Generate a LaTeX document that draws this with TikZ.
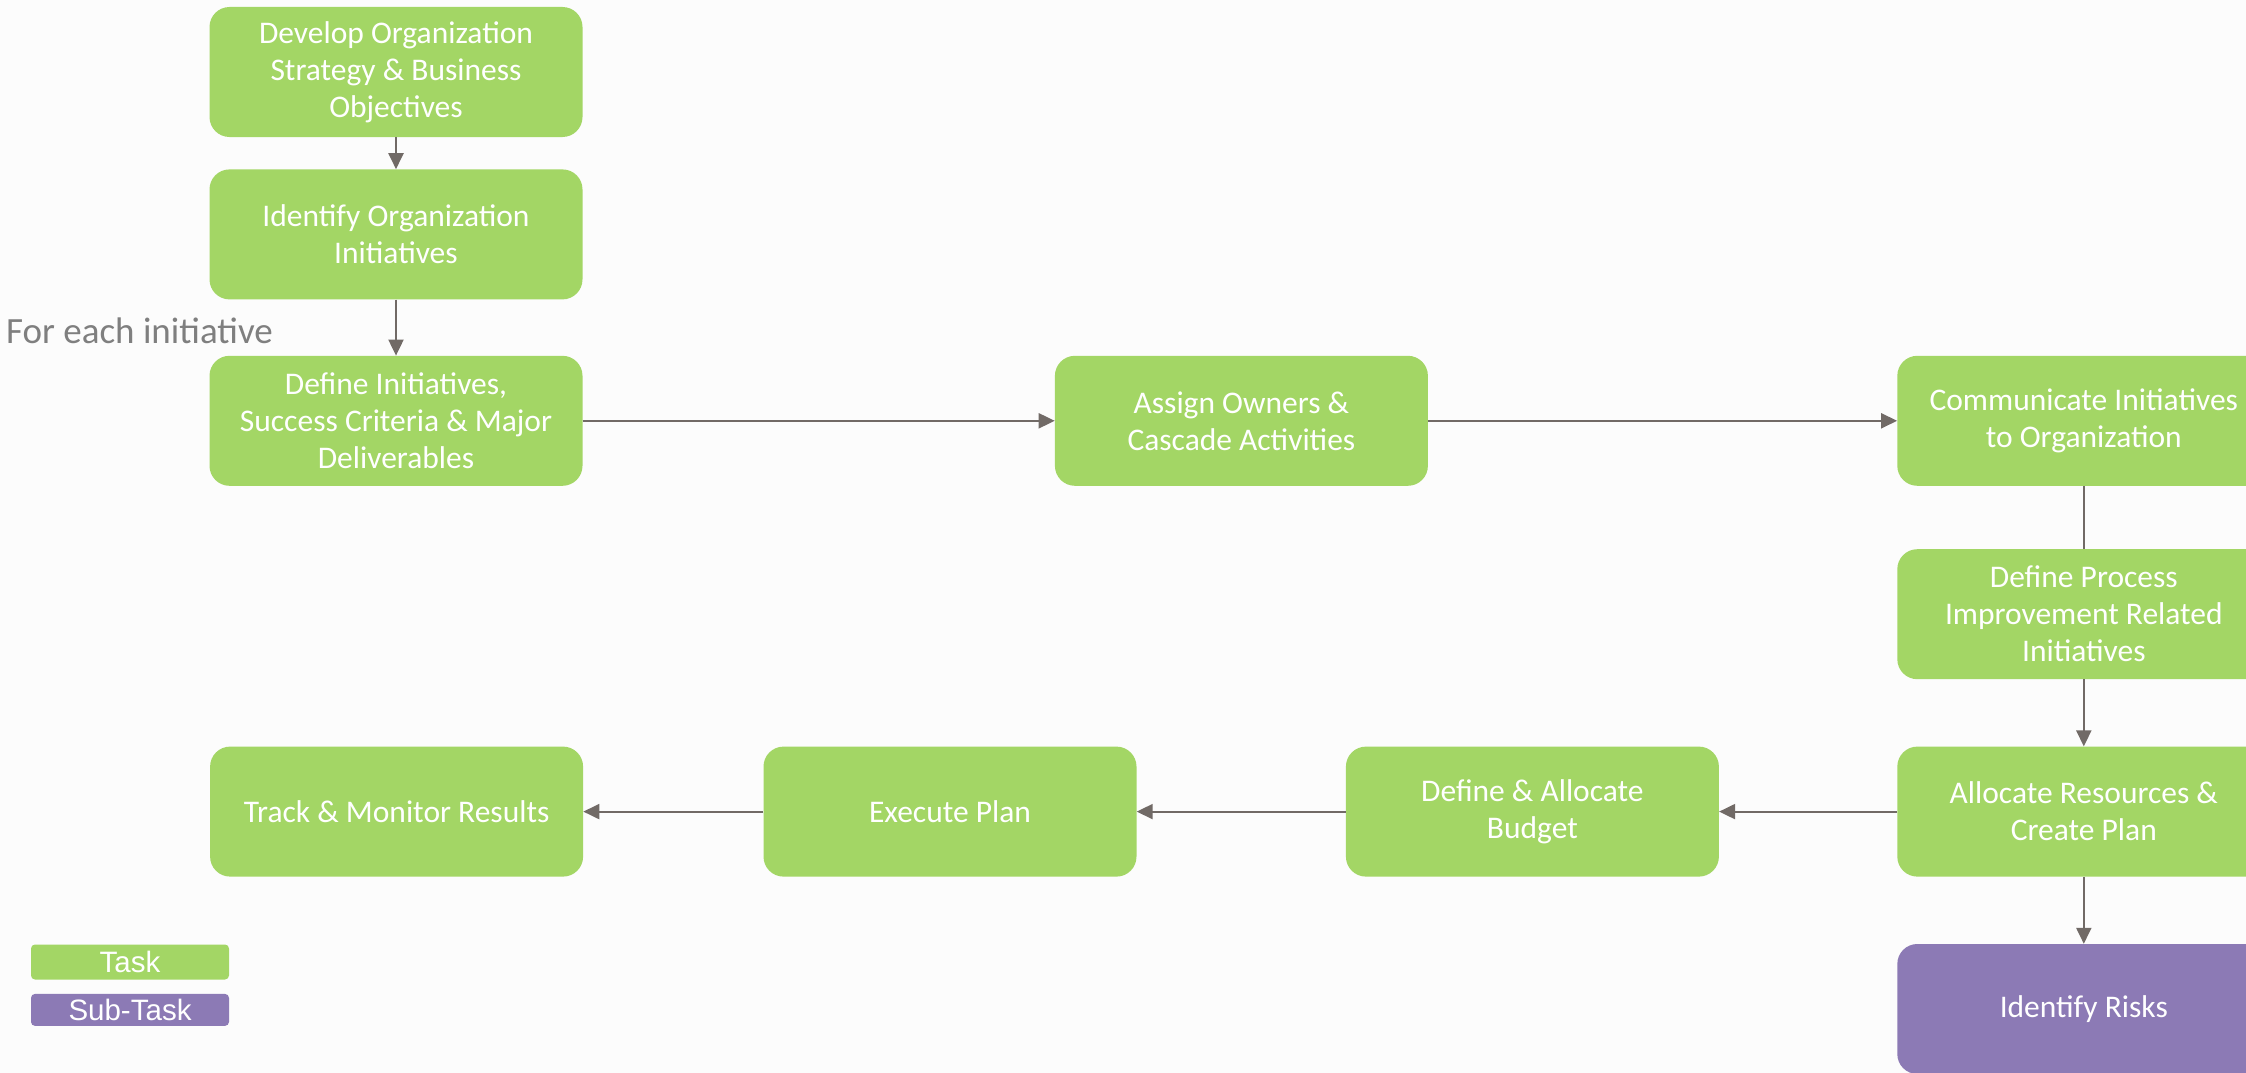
\documentclass[tikz,border=0pt]{standalone}
\usepackage{fontspec}
\setmainfont{Carlito}
\newfontfamily\legendfont{Liberation Sans}
\usetikzlibrary{positioning,arrows.meta}
\definecolor{taskgreen}{HTML}{A3D665}
\definecolor{subpurple}{HTML}{8C7AB5}
\definecolor{flowgray}{HTML}{716A66}
\definecolor{notegray}{HTML}{7F7F7F}
\definecolor{pagebg}{HTML}{FCFCFC}

\begin{document}
\begin{tikzpicture}[x=1pt, y=-1pt, node distance={32pt},
    task/.style = {fill=taskgreen, rounded corners=20pt, minimum width=373pt, minimum height=130pt,
                   inner sep=0pt, text=white, align=center, font=\fontsize{31.5}{37}\selectfont},
    subtask/.style = {task, fill=subpurple},
    legend/.style = {rounded corners=4pt, minimum width=198pt, inner sep=0pt, text=white,
                     font=\legendfont\fontsize{29.5}{29.5}\selectfont},
    link/.style = {draw=flowgray, line width=2pt},
    flow/.style = {link, -{Triangle[length=16pt, width=15pt]}}]
    \path[use as bounding box, fill=pagebg] (0,0) rectangle (2246,1073);

    % top column
    \node[task] (dev) at (396,72) {Develop Organization\\Strategy \& Business\\Objectives};
    \node[task] (ident) [below=32pt of dev] {Identify Organization\\Initiatives};
    \node[task] (defini) [below=56pt of ident] {Define Initiatives,\\Success Criteria \& Major\\Deliverables};
    \node[font=\fontsize{37}{37}\selectfont, text=notegray, anchor=base west, inner sep=0pt] (foreach) at (6,343) {For each initiative};

    % across and down
    \node[task] (assign) [right=472pt of defini] {Assign Owners \&\\Cascade Activities};
    \node[task] (comm) [right=469pt of assign] {Communicate Initiatives\\to Organization};
    \node[task] (defproc) [below=63pt of comm] {Define Process\\Improvement Related\\Initiatives};
    \node[task] (alloc) [below=67pt of defproc] {Allocate Resources \&\\Create Plan};
    \node[subtask] (risks) [below=67pt of alloc] {Identify Risks};

    % back along the bottom
    \node[task] (budget) [left=178pt of alloc] {Define \& Allocate\\Budget};
    \node[task] (exec) [left=209pt of budget] {Execute Plan};
    \node[task] (track) [left=180pt of exec] {Track \& Monitor Results};

    % legend
    \node[legend, fill=taskgreen, minimum height=35pt] (legtask) at (130,962) {Task};
    \node[legend, fill=subpurple, minimum height=32pt] (legsub) [below=14pt of legtask] {Sub-Task};

    \draw[flow] (dev) -- (ident);
    \draw[flow] (ident) -- (defini);
    \draw[flow] (defini) -- (assign);
    \draw[flow] (assign) -- (comm);
    \draw[link] (comm) -- (defproc);
    \draw[flow] (defproc) -- (alloc);
    \draw[flow] (alloc) -- (risks);
    \draw[flow] (alloc) -- (budget);
    \draw[flow] (budget) -- (exec);
    \draw[flow] (exec) -- (track);
\end{tikzpicture}
\end{document}
